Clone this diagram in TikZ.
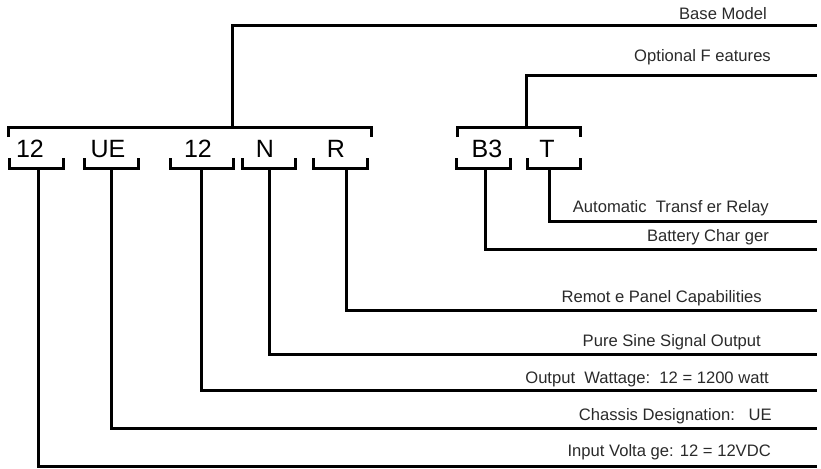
\documentclass[tikz,border=0pt]{standalone}
\usepackage{fontspec}
\setmainfont{Liberation Sans}
\usepackage{tikz}
\usetikzlibrary{positioning}
\definecolor{labelGray}{HTML}{2A2A2A}

\begin{document}
\begin{tikzpicture}[
    x=1pt,y=-1pt,
    lead/.style={line width=3pt,line join=miter},
    codechar/.style={inner sep=0pt,anchor=base,font=\fontsize{25}{28}\selectfont},
    lbl/.style={inner sep=0pt,anchor=base east,text=labelGray,font=\fontsize{16.6}{19}\selectfont}
  ]
  \useasboundingbox (0,0) rectangle (821,468);
  %% Model code characters, their lower brackets and leaders
  \foreach \nm/\txt/\xt/\xl/\xr/\xc/\ly/\lb/\xe/\desc in {
      vin/12/30/9/63/38/466/456/771/{Input Volta ge: 12 = 12VDC},
      chs/UE/108/84/138/111/428/420/772/{Chassis Designation:\ \ \ UE},
      wat/12/198/170/233/201/390/383/769/{Output\ \ Wattage:\ \ 12 = 1200 watt},
      sin/N/265/242/295/269/354/346/761/{Pure Sine Signal Output},
      rem/R/336/313/367/346/310/302/762/{Remot e Panel Capabilities},
      chg/B3/487/456/510/485/249/241/769/{Battery Char ger},
      atr/T/547/527/580/549/221/212/769/{Automatic\ \ Transf er Relay}
    }{
    \node[codechar] (\nm) at (\xt,157) {\txt};
    \draw[lead] (\xl,158) -- (\xl,168) -- (\xr,168) -- (\xr,158);
    \coordinate (\nm-b) at (\xc,168);
    \coordinate (\nm-e) at (817,\ly);
    \node[lbl] (\nm-lab) at (\xe,\lb) {\desc};
    \draw[lead] (\nm-b) |- (\nm-e);
  }
  %% Upper brackets: base model and options
  \draw[lead] (8,137) -- (8,127) -- (371,127) -- (371,137);
  \draw[lead] (457,137) -- (457,127) -- (580,127) -- (580,137);
  \coordinate (base-t) at (232,127);
  \coordinate (base-e) at (817,26);
  \node[lbl] (base-lab) at (767,20) {Base Model};
  \draw[lead] (base-t) |- (base-e);
  \coordinate (opt-t) at (526,127);
  \coordinate (opt-e) at (817,76);
  \node[lbl] (opt-lab) at (771,62) {Optional F eatures};
  \draw[lead] (opt-t) |- (opt-e);
\end{tikzpicture}
\end{document}
